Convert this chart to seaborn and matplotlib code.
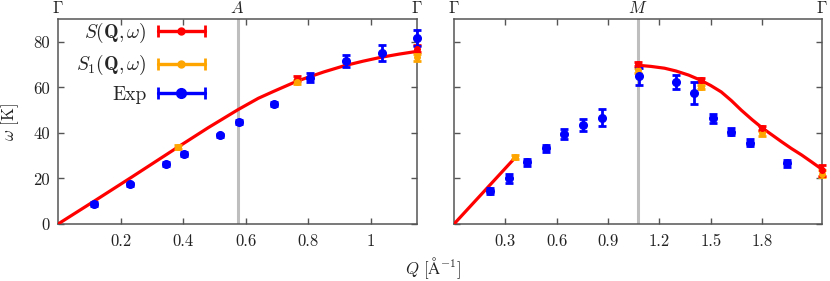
import numpy as np
import pandas as pd
import seaborn as sns
import matplotlib.pyplot as plt
from matplotlib.lines import Line2D
from matplotlib.legend_handler import HandlerLine2D

# ---- data ----
# panel Gamma-A-Gamma
A_pt = 0.5735
curve_A_q = [0, 0.115, 0.231, 0.38, 0.48, 0.575, 0.64, 0.69, 0.765, 0.85, 0.915, 0.975, 1.032, 1.09, 1.147]
curve_A_w = [0, 10.0, 20.2, 33.5, 42.3, 50.2, 55.2, 58.3, 62.8, 66.8, 69.5, 71.5, 73.2, 74.6, 75.8]
S_A_q = [0.765, 1.147]
S_A_w = [63.8, 77.0]
S_A_err = [1.0, 1.5]
S1_A_q = [0.382, 0.765, 1.147]
S1_A_w = [33.9, 62.4, 73.2]
S1_A_err = [1.0, 1.0, 1.5]
exp_A_q = [0.115, 0.231, 0.345, 0.403, 0.517, 0.577, 0.689, 0.806, 0.921, 1.035, 1.147]
exp_A_w = [8.8, 17.4, 26.4, 30.8, 38.9, 44.7, 52.8, 64.2, 71.5, 75.1, 81.7]
exp_A_err = [0.8, 0.8, 0.8, 0.8, 0.8, 0.8, 0.8, 2.0, 2.5, 3.5, 3.5]

# panel Gamma-M-Gamma
M_pt = 1.074
seg1_M_q = [0, 0.359]
seg1_M_w = [0, 29.3]
seg2_M_q = [1.074, 1.15, 1.23, 1.296, 1.37, 1.439, 1.50, 1.561, 1.62, 1.678, 1.74, 1.8, 1.86, 1.914, 1.97, 2.031, 2.09, 2.148]
seg2_M_w = [69.7, 69.2, 68.4, 67.2, 65.4, 63.2, 60.8, 58.0, 54.2, 50.0, 45.9, 42.2, 39.0, 36.1, 33.2, 30.3, 27.2, 24.1]
S_M_q = [1.074, 1.443, 1.798, 2.148]
S_M_w = [70.3, 63.3, 42.2, 23.5]
S_M_err = [1.0, 1.0, 1.0, 2.5]
S1_M_q = [0.359, 1.074, 1.443, 1.798, 2.148]
S1_M_w = [29.3, 67.5, 60.1, 39.8, 22.0]
S1_M_err = [0.8, 1.0, 1.0, 1.0, 1.5]
exp_M_q = [0.212, 0.319, 0.427, 0.535, 0.645, 0.753, 0.862, 1.078, 1.296, 1.404, 1.513, 1.621, 1.731, 1.947]
exp_M_w = [14.5, 20.0, 27.1, 33.2, 39.6, 43.4, 46.7, 64.9, 62.4, 57.6, 46.5, 40.6, 35.7, 26.6]
exp_M_err = [1.5, 2.0, 1.5, 1.5, 2.2, 2.6, 3.6, 3.8, 3.0, 4.7, 2.0, 1.5, 1.5, 1.5]

RED = '#ff0000'
ORANGE = '#ffa500'
BLUE = '#0000ff'
GREY = '#555555'

sns.set_theme(style='ticks')
plt.rcParams['font.family'] = 'serif'
plt.rcParams['font.serif'] = ['cmr10']
plt.rcParams['mathtext.fontset'] = 'cm'
plt.rcParams['axes.formatter.use_mathtext'] = True
plt.rcParams['font.size'] = 11

fig = plt.figure(figsize=(8.3, 2.81), dpi=100)
axA = fig.add_axes([0.0699, 0.2028, 0.4325, 0.7295])
axM = fig.add_axes([0.547, 0.2028, 0.443, 0.7295])


def draw_points(ax, q, w, err, color, ms, cap):
    ax.errorbar(q, w, yerr=err, fmt='o', color=color, ms=ms, elinewidth=2,
                capsize=cap, capthick=2, clip_on=False, zorder=4)


def style(ax, xmax, hs_pt, hs_label, xticks, xlabels, ylabels):
    ax.set_xlim(0, xmax)
    ax.set_ylim(0, 90)
    ax.axvline(hs_pt, color='#bebebe', lw=2.2, zorder=1)
    ax.set_xticks(xticks)
    ax.set_xticklabels(xlabels)
    ax.set_yticks([0, 20, 40, 60, 80])
    if ylabels:
        ax.set_yticklabels(['0', '20', '40', '60', '80'])
    else:
        ax.set_yticklabels([])
    ax.tick_params(direction='in', top=True, right=True, length=4.5, width=1,
                   color=GREY, labelsize=12, labelcolor='#222222')
    ax.tick_params(axis='x', pad=7)
    ax.tick_params(axis='y', pad=6)
    for s in ax.spines.values():
        s.set_color(GREY)
        s.set_linewidth(1.1)
        s.set_visible(True)
    sec = ax.secondary_xaxis('top')
    sec.set_xticks([0, hs_pt, xmax])
    sec.set_xticklabels([r'$\Gamma$', hs_label, r'$\Gamma$'])
    sec.tick_params(length=0, pad=2, labelsize=12, labelcolor='#222222')
    sec.spines['top'].set_visible(False)
    ax.set_xlabel('')
    ax.set_ylabel('')


# left panel
sns.lineplot(x=curve_A_q, y=curve_A_w, ax=axA, color=RED, lw=2.3, sort=False, zorder=3)
draw_points(axA, S_A_q, S_A_w, S_A_err, RED, 4, 3)
draw_points(axA, S1_A_q, S1_A_w, S1_A_err, ORANGE, 4, 3)
draw_points(axA, exp_A_q, exp_A_w, exp_A_err, BLUE, 5.5, 3)
style(axA, 1.147, A_pt, r'$A$', [0.2, 0.4, 0.6, 0.8, 1.0],
      ['0.2', '0.4', '0.6', '0.8', '1'], True)

# right panel
sns.lineplot(x=seg1_M_q, y=seg1_M_w, ax=axM, color=RED, lw=2.3, sort=False, zorder=3)
sns.lineplot(x=seg2_M_q, y=seg2_M_w, ax=axM, color=RED, lw=2.3, sort=False, zorder=3)
draw_points(axM, S1_M_q, S1_M_w, S1_M_err, ORANGE, 4, 3)
draw_points(axM, S_M_q, S_M_w, S_M_err, RED, 4, 3)
draw_points(axM, exp_M_q, exp_M_w, exp_M_err, BLUE, 5.5, 3)
style(axM, 2.148, M_pt, r'$M$', [0.3, 0.6, 0.9, 1.2, 1.5, 1.8],
      ['0.3', '0.6', '0.9', '1.2', '1.5', '1.8'], False)

# legend in gnuplot style: label, then line with caps
handles = []
hmap = {}
for c, ms in [(RED, 5), (ORANGE, 5), (BLUE, 7)]:
    body = Line2D([], [], color=c, lw=2.3, marker='o', ms=ms)
    caps = Line2D([], [], color=c, lw=2.3, marker='|', ms=9, mew=2)
    hmap[caps] = HandlerLine2D(numpoints=2, marker_pad=0)
    handles.append((body, caps))
axA.legend(handles, [r'$S(\mathbf{Q},\omega)$', r'$S_1(\mathbf{Q},\omega)$', 'Exp'],
           handler_map=hmap, loc='upper right', bbox_to_anchor=(0.41, 0.99),
           frameon=False, markerfirst=False, handlelength=2.45, handletextpad=0.55,
           labelspacing=0.42, borderpad=0, borderaxespad=0, fontsize=14)

fig.text(0.0125, 0.567, r'$\omega$ [K]', rotation=90, ha='center', va='center',
         fontsize=12, color='#222222')
fig.text(0.522, 0.045, r'$Q\ [\mathrm{\AA}^{-1}]$', ha='center', va='center',
         fontsize=12, color='#222222')

fig.savefig('out.png', dpi=100)
